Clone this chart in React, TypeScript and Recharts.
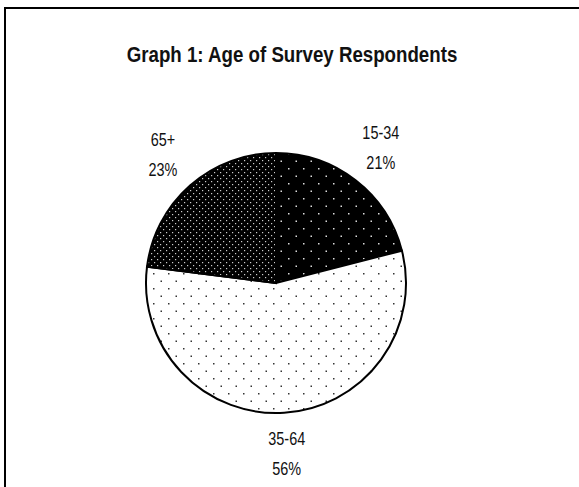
import React from "react";
import { PieChart, Pie, Cell } from "recharts";

const categories = ["15-34", "35-64", "65+"];
const shares = [21, 56, 23];
const patternIds = ["patSparseBlack", "patSparseWhite", "patDenseBlack"];
const title = "Graph 1: Age of Survey Respondents";

const data = categories.map((name, i) => ({ name, value: shares[i] }));

const FONT = "'Liberation Sans', Arial, sans-serif";
const LABEL_NARROW = 0.76;
const TITLE_NARROW = 0.85;
const RAD = Math.PI / 180;

const renderLabel = (props: any) => {
  const { cx, cy, midAngle, outerRadius, name, value } = props;
  const r = outerRadius + 41;
  const x = cx + r * Math.cos(-midAngle * RAD);
  const y = cy + r * Math.sin(-midAngle * RAD);
  return (
    <g transform={`translate(${x},${y}) scale(${LABEL_NARROW},1)`}>
      <text x={0} y={0} textAnchor="middle" fontFamily={FONT} fontSize={19} fill="#111">
        <tspan x={0} dy={-9}>{name}</tspan>
        <tspan x={0} dy={30}>{`${value}%`}</tspan>
      </text>
    </g>
  );
};

export default function App() {
  return (
    <div style={{ position: "absolute", left: 0, top: 0, width: 579, height: 487, background: "#fff", overflow: "hidden" }}>
      <div style={{ position: "absolute", left: 4, top: 7, width: 600, height: 500, borderLeft: "2px solid #000", borderTop: "2px solid #000" }} />
      <div style={{ position: "absolute", left: 0, top: 0 }}>
        <PieChart width={579} height={487}>
          <defs>
            <pattern id="patSparseBlack" width="15" height="15" patternUnits="userSpaceOnUse">
              <rect width="15" height="15" fill="#000" />
              <rect x="3" y="3" width="1.5" height="1.5" fill="#ddd" />
              <rect x="10.5" y="10.5" width="1.5" height="1.5" fill="#ddd" />
            </pattern>
            <pattern id="patSparseWhite" width="15" height="15" patternUnits="userSpaceOnUse">
              <rect width="15" height="15" fill="#fff" />
              <rect x="3" y="3" width="1.5" height="1.5" fill="#333" />
              <rect x="10.5" y="10.5" width="1.5" height="1.5" fill="#333" />
            </pattern>
            <pattern id="patDenseBlack" width="6" height="6" patternUnits="userSpaceOnUse">
              <rect width="6" height="6" fill="#000" />
              <rect x="1" y="1" width="1.2" height="1.2" fill="#ccc" />
              <rect x="4" y="4" width="1.2" height="1.2" fill="#ccc" />
            </pattern>
          </defs>
          <g transform={`translate(292,62) scale(${TITLE_NARROW},1)`}>
            <text x={0} y={0} textAnchor="middle" fontFamily={FONT} fontWeight="bold" fontSize={22} fill="#111">
              {title}
            </text>
          </g>
          <Pie
            data={data}
            dataKey="value"
            nameKey="name"
            cx={271}
            cy={278}
            outerRadius={130}
            startAngle={90}
            endAngle={-270}
            stroke="#000"
            strokeWidth={2}
            label={renderLabel}
            labelLine={false}
            isAnimationActive={false}
          >
            {data.map((d, i) => (
              <Cell key={d.name} fill={`url(#${patternIds[i]})`} />
            ))}
          </Pie>
        </PieChart>
      </div>
    </div>
  );
}
